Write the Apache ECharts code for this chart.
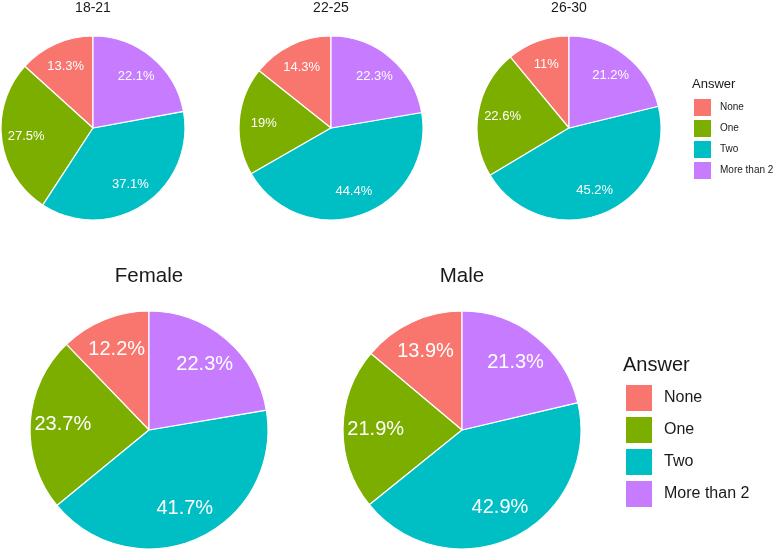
<!DOCTYPE html>
<html>
<head>
<meta charset="utf-8">
<script src="https://cdn.jsdelivr.net/npm/echarts@6/dist/echarts.min.js"></script>
<style>html,body{margin:0;padding:0;background:#fff}#c{width:777px;height:553px}</style>
</head>
<body>
<div id="c"></div>
<script>
const categories = ['None', 'One', 'Two', 'More than 2'];
const colors = ['#F8766D', '#7CAE00', '#00BFC4', '#C77CFF'];
const age18_21 = [13.3, 27.5, 37.1, 22.1];
const age22_25 = [14.3, 19, 44.4, 22.3];
const age26_30 = [11, 22.6, 45.2, 21.2];
const female = [12.2, 23.7, 41.7, 22.3];
const male = [13.9, 21.9, 42.9, 21.3];
const panelTitles = ['18-21', '22-25', '26-30', 'Female', 'Male'];
const legendTitle = 'Answer';

const FONT = "'Liberation Sans', Arial, sans-serif";
const panels = [
  {vals: age18_21, c: [93, 128], r: 92, fs: 13, title: panelTitles[0], ty: 8, tfs: 14},
  {vals: age22_25, c: [331, 128], r: 92, fs: 13, title: panelTitles[1], ty: 8, tfs: 14},
  {vals: age26_30, c: [569, 128], r: 92, fs: 13, title: panelTitles[2], ty: 8, tfs: 14},
  {vals: female, c: [149, 430], r: 119, fs: 20, title: panelTitles[3], ty: 276, tfs: 20.5},
  {vals: male, c: [462, 430], r: 119, fs: 20, title: panelTitles[4], ty: 276, tfs: 20.5}
];

const series = [];
const graphics = [];
panels.forEach((p, i) => {
  const data = categories.map((n, k) => ({name: n, value: p.vals[k], itemStyle: {color: colors[k]}}));
  series.push({
    type: 'pie', center: p.c, radius: p.r, startAngle: 90, clockwise: false,
    data: data, label: {show: false}, labelLine: {show: false},
    itemStyle: {borderColor: '#fff', borderWidth: 1.2}, emphasis: {disabled: true}, animation: false
  });
  series.push({
    type: 'pie', center: p.c, radius: [p.r * 0.4, p.r], startAngle: 90, clockwise: false, silent: true,
    data: categories.map((n, k) => ({name: n + ' ', value: p.vals[k]})),
    itemStyle: {color: 'rgba(0,0,0,0)'},
    label: {show: true, position: 'inside', color: '#fff', fontSize: p.fs, fontFamily: FONT,
      formatter: d => d.value + '%'},
    labelLine: {show: false}, emphasis: {disabled: true}, animation: false
  });
  graphics.push({type: 'text', x: p.c[0], y: p.ty,
    style: {text: p.title, align: 'center', verticalAlign: 'middle', textAlign: 'center', textVerticalAlign: 'middle',
      fontSize: p.tfs, fontFamily: FONT, fill: '#1a1a1a'}});
});
graphics.push({type: 'text', x: 692, y: 84,
  style: {text: legendTitle, align: 'left', verticalAlign: 'middle', textVerticalAlign: 'middle', fontSize: 13, fontFamily: FONT, fill: '#1a1a1a'}});
graphics.push({type: 'text', x: 623, y: 365,
  style: {text: legendTitle, align: 'left', verticalAlign: 'middle', textVerticalAlign: 'middle', fontSize: 20, fontFamily: FONT, fill: '#1a1a1a'}});

const chart = echarts.init(document.getElementById('c'), null, {renderer: 'canvas'});
chart.setOption({
  backgroundColor: '#fff',
  animation: false,
  legend: [
    {data: categories, orient: 'vertical', left: 692, top: 97, icon: 'rect', itemWidth: 19, itemHeight: 19,
      itemGap: 0, padding: 0, selectedMode: false, textStyle: {fontSize: 10, fontFamily: FONT, color: '#1a1a1a', padding: [0, 0, 0, 3]}},
    {data: categories, orient: 'vertical', left: 624, top: 383, icon: 'rect', itemWidth: 28, itemHeight: 28,
      itemGap: 2, padding: 0, selectedMode: false, textStyle: {fontSize: 16, fontFamily: FONT, color: '#1a1a1a', padding: [0, 0, 0, 6]}}
  ],
  graphic: graphics,
  series: series
});
</script>
</body>
</html>
